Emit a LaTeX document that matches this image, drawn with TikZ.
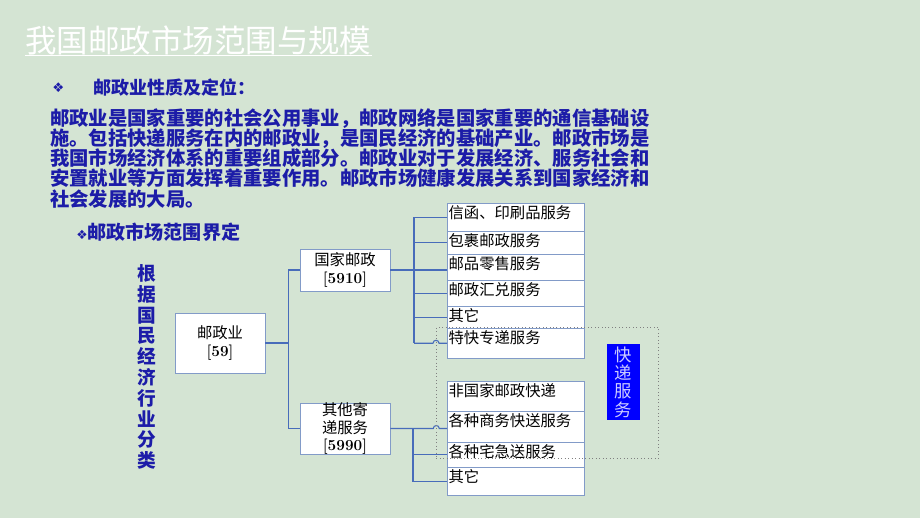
\documentclass[tikz,border=0pt]{standalone}
\usepackage{fontspec}
\newfontfamily\cjk{Noto Sans CJK SC}
\newfontfamily\sym{DejaVu Sans}
\usepackage{tikz}

\definecolor{bg}{RGB}{212,228,211}
\definecolor{para}{RGB}{28,28,168}
\definecolor{conn}{RGB}{72,108,186}
\definecolor{frame}{RGB}{130,155,200}
\definecolor{kdtext}{RGB}{205,205,255}

\begin{document}
\begin{tikzpicture}[x=0.75pt,y=-0.75pt,
  mid/.style={draw=frame,fill=white,minimum width=67.5pt,align=center,inner sep=0pt,
    font=\cjk\fontsize{11.5pt}{13pt}\selectfont},
  rbox/.style={draw=frame,fill=white,anchor=north west,text width=100.75pt,align=left,
    inner xsep=1pt,inner ysep=1.5pt,text height=10pt,text depth=#1,
    font=\cjk\fontsize{11.5pt}{12pt}\selectfont},
  line/.style={draw=conn,line width=0.8pt}]
  \fill[bg] (0,0) rectangle (920,518);
  \useasboundingbox (0,0) rectangle (920,518);

  \node[anchor=west,inner sep=0pt,text=white,font=\cjk\fontsize{23.6pt}{26pt}\selectfont] (title) at (25,40) {我国邮政市场范围与规模};
  \draw[white,line width=1pt] (25,55.5) -- (372,55.5);

  \node[anchor=west,inner sep=0pt,text=para,font=\sym\fontsize{10pt}{11pt}\selectfont] (b1) at (52,88) {❖};
  \node[anchor=west,inner sep=0pt,text=para,font=\cjk\bfseries\fontsize{13.5pt}{15pt}\selectfont] (h1) at (93,88) {邮政业性质及定位：};
  \node[anchor=north west,inner sep=0pt,align=left,text=para,font=\cjk\bfseries\fontsize{14.5pt}{15.2pt}\selectfont] (para) at (50,108)
    {邮政业是国家重要的社会公用事业，邮政网络是国家重要的通信基础设\\
     施。包括快递服务在内的邮政业，是国民经济的基础产业。邮政市场是\\
     我国市场经济体系的重要组成部分。邮政业对于发展经济、服务社会和\\
     安置就业等方面发挥着重要作用。邮政市场健康发展关系到国家经济和\\
     社会发展的大局。};
  \node[anchor=west,inner sep=0pt,text=para,font=\cjk\bfseries\fontsize{14.3pt}{15pt}\selectfont] (h2) at (76,232) {{\sym\fontsize{9.5pt}{10pt}\selectfont ❖}邮政市场范围界定};
  \node[align=center,inner sep=0pt,text=para,font=\cjk\bfseries\fontsize{14pt}{15.6pt}\selectfont] (cat) at (146.5,367) {根\\据\\国\\民\\经\\济\\行\\业\\分\\类};

  \node[mid,minimum height=45pt] (root) at (220,343) {邮政业\\{\rmfamily\bfseries [59]}};
  \node[mid,minimum height=31.5pt] (gj) at (345,270) {国家邮政\\{\rmfamily\bfseries [5910]}};
  \node[mid,minimum height=35.25pt] (qt) at (345,428.5) {其他寄\\递服务\\{\rmfamily\bfseries [5990]}};

  \node[rbox=8pt] (p1) at (447,203) {信函、印刷品服务};
  \node[rbox=4.25pt] (p2) at (447,231) {包裹邮政服务};
  \node[rbox=6.5pt] (p3) at (447,254) {邮品零售服务};
  \node[rbox=6.5pt] (p4) at (447,280) {邮政汇兑服务};
  \node[rbox=3.5pt] (p5) at (447,306) {其它};
  \node[rbox=9.5pt] (p6) at (447,328) {特快专递服务};
  \node[rbox=9.5pt] (q1) at (447,381) {非国家邮政快递};
  \node[rbox=10.25pt] (q2) at (447,411) {各种商务快送服务};
  \node[rbox=5.75pt] (q3) at (447,442) {各种宅急送服务};
  \node[rbox=8pt] (q4) at (447,467) {其它};

  \coordinate (j1) at (414,270);
  \coordinate (j2) at (413,428.5);
  \draw[line] (root.east) -- ++(23,0) |- (gj.west);
  \draw[line] (root.east) -- ++(23,0) |- (qt.west);
  \draw[line] (gj.east) -- (gj.east -| p3.west);
  \draw[line] (j1 |- p1.west) -- (j1 |- p6.west);
  \foreach \b in {p1,p2,p4,p5}
    \draw[line] (j1 |- \b.west) -- (\b.west);
  \draw[line] (j1 |- p6.west) -- ++(19,0) arc[start angle=180,end angle=360,radius=3] -- (p6.west);
  \draw[line] (qt.east) -- ++(43,0) arc[start angle=180,end angle=360,radius=3] -- (qt.east -| q2.west);
  \draw[line] (j2) |- (q3.west);
  \draw[line] (j2) |- (q4.west);

  \node[draw=gray,dotted,line width=0.6pt,anchor=north west,minimum width=166.5pt,minimum height=98.25pt,inner sep=0pt] (kdframe) at (436,327) {};
  \node[fill=blue,text=kdtext,minimum width=24.75pt,minimum height=57pt,inner sep=0pt,align=center,
    font=\cjk\fontsize{13pt}{13.7pt}\selectfont] (kd) at (623.5,382) {快\\递\\服\\务};
\end{tikzpicture}
\end{document}
